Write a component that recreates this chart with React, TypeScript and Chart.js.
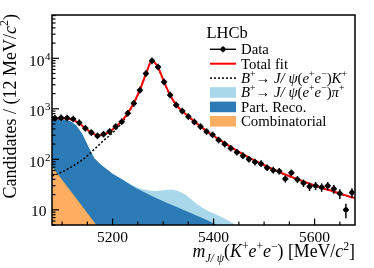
import React, { useEffect, useRef } from "react";
import { Chart, registerables } from "chart.js";

Chart.register(...registerables);

const SERIF = '"Liberation Serif", "Times New Roman", serif';

// ---- data ----
const binCenters = [
  5086, 5098, 5110, 5122, 5134, 5146, 5158, 5170, 5182, 5194,
  5206, 5218, 5230, 5242, 5254, 5266, 5278, 5290, 5302, 5314,
  5326, 5338, 5350, 5362, 5374, 5386, 5398, 5410, 5422, 5434,
  5446, 5458, 5470, 5482, 5494, 5506, 5518, 5530, 5542, 5554,
  5566, 5578, 5590, 5602, 5614, 5626, 5638, 5650, 5662, 5674,
];
const dataCounts = [
  649, 665, 658, 630, 532, 412, 338, 291, 314, 354,
  444, 556, 815, 1282, 2340, 4990, 8900, 6730, 3410, 1870,
  1189, 905, 700, 550, 444, 354, 305, 240, 200, 165,
  138, 118, 100, 88, 82, 68, 61, 58, 41, 54,
  40, 34, 29, 30, 28, 30, 26, 21, 10, 22,
];
const binHalfWidth = 6;

const curveMass = [5080, ...binCenters, 5680];
const totalFit = [
  645, 648, 652, 642, 600, 512, 412, 338, 300, 308,
  352, 440, 570, 820, 1300, 2360, 4900, 8900, 6550, 3380,
  1860, 1200, 900, 712, 562, 450, 364, 300, 250, 210,
  176, 148, 126, 108, 94, 82, 72, 63.5, 56, 50,
  45, 40.5, 36.5, 33, 30, 27.3, 25, 23, 21, 19.3,
  17.7, 17,
];
const signalK = [
  47, 49, 55, 63, 74, 88, 108, 140, 180, 235,
  295, 385, 525, 785, 1270, 2335, 4880, 8880, 6530, 3360,
  1840, 1185, 888, 702, 554, 443, 358, 295, 246, 206,
  173, 145, 124, 106, 92.5, 81, 71, 62.5, 55, 49.2,
  44.3, 39.8, 35.9, 32.4, 29.5, 26.8, 24.6, 22.6, 20.6, 19,
  17.4, 16.7,
];

const partRecoMass = [
  5080, 5092, 5104, 5116, 5128, 5140, 5152, 5164, 5176, 5188,
  5200, 5212, 5224, 5236, 5248, 5260, 5272, 5284, 5296, 5308,
  5320, 5332, 5344, 5356, 5368, 5380, 5392, 5404, 5416,
];
const partReco = [
  625, 625, 615, 575, 470, 320, 180, 105, 80, 64,
  52, 44, 37, 31, 26.5, 23, 20, 17.5, 15.5, 13.7,
  12.2, 10.8, 9.6, 8.5, 7.5, 6.7, 5.9, 5.2, 4.6,
];

const piMass = [
  5212, 5224, 5236, 5248, 5260, 5272, 5284, 5296, 5308, 5320,
  5332, 5344, 5356, 5368, 5380, 5392, 5404, 5416, 5428, 5440, 5452,
];
const piStack = [
  44, 37, 32, 28, 25.5, 24, 23.5, 24, 25, 25,
  23, 20, 16, 12.8, 10.6, 9.2, 8.2, 7.2, 6.2, 5.3, 4.6,
];

const combMass = [5080, 5168];
const combinatorial = [72, 5];

const xMajorTicks = [5200, 5400, 5600];
const xMinorTicks = [5100, 5150, 5250, 5300, 5350, 5450, 5500, 5550, 5650];
const yDecades = [10, 100, 1000, 10000];
const yExponents = ["", "2", "3", "4"];

const X_MIN = 5080;
const X_MAX = 5680;
const Y_MIN = 5;
const Y_MAX = 72000;

const COL_LIGHT = "#a9d8ea";
const COL_DARK = "#2c7bb6";
const COL_ORANGE = "#fdae61";
const COL_RED = "#ff0000";

// ---- rich text helper ----
type Run = { t: string; it?: boolean; s?: number; dy?: number };
const sup = (t: string): Run => ({ t, s: 0.66, dy: -0.42 });
const subIt = (t: string): Run => ({ t, it: true, s: 0.66, dy: 0.3 });

function runFont(r: Run, base: number) {
  return `${r.it ? "italic " : ""}${(base * (r.s ?? 1)).toFixed(2)}px ${SERIF}`;
}

function drawRuns(
  ctx: CanvasRenderingContext2D,
  runs: Run[],
  x: number,
  y: number,
  base: number,
  align: "left" | "right" | "center"
) {
  let w = 0;
  const widths = runs.map((r) => {
    ctx.font = runFont(r, base);
    const ww = ctx.measureText(r.t).width;
    w += ww;
    return ww;
  });
  let cx = align === "left" ? x : align === "right" ? x - w : x - w / 2;
  ctx.textAlign = "left";
  ctx.textBaseline = "alphabetic";
  runs.forEach((r, i) => {
    ctx.font = runFont(r, base);
    ctx.fillText(r.t, cx, y + (r.dy ?? 0) * base);
    cx += widths[i];
  });
}

function line(ctx: CanvasRenderingContext2D, x1: number, y1: number, x2: number, y2: number) {
  ctx.beginPath();
  ctx.moveTo(x1, y1);
  ctx.lineTo(x2, y2);
  ctx.stroke();
}

const decor = {
  id: "decor",
  afterDatasetsDraw(chart: any) {
    const ctx: CanvasRenderingContext2D = chart.ctx;
    const xs = chart.scales.x;
    const ys = chart.scales.y;
    ctx.save();
    ctx.strokeStyle = "#000";
    ctx.lineWidth = 1.5;
    binCenters.forEach((m, i) => {
      const n = dataCounts[i];
      const e = Math.sqrt(n);
      const px = xs.getPixelForValue(m);
      const py = ys.getPixelForValue(n);
      const yTop = Math.min(ys.getPixelForValue(n + e), py - 3.3);
      const yBot = Math.max(ys.getPixelForValue(Math.max(n - e, 0.01)), py + 3.3);
      line(ctx, xs.getPixelForValue(m - binHalfWidth), py, xs.getPixelForValue(m + binHalfWidth), py);
      line(ctx, px, yTop, px, yBot);
    });
    ctx.restore();
  },
  afterDraw(chart: any) {
    const ctx: CanvasRenderingContext2D = chart.ctx;
    const xs = chart.scales.x;
    const ys = chart.scales.y;
    const a = chart.chartArea;
    ctx.save();
    ctx.strokeStyle = "#000";
    ctx.fillStyle = "#000";

    // frame
    ctx.lineWidth = 1.5;
    ctx.strokeRect(a.left, a.top, a.right - a.left, a.bottom - a.top);

    // x ticks
    ctx.lineWidth = 1.2;
    xMajorTicks.forEach((v) => {
      const p = xs.getPixelForValue(v);
      line(ctx, p, a.bottom, p, a.bottom - 6.5);
    });
    xMinorTicks.forEach((v) => {
      const p = xs.getPixelForValue(v);
      line(ctx, p, a.bottom, p, a.bottom - 3.5);
    });
    // y ticks
    yDecades.forEach((d) => {
      const p = ys.getPixelForValue(d);
      line(ctx, a.left, p, a.left + 7, p);
    });
    for (let dec = 1; dec <= 10000; dec *= 10) {
      for (let k = 2; k <= 9; k++) {
        const v = k * dec;
        if (v < Y_MIN || v > Y_MAX) continue;
        const p = ys.getPixelForValue(v);
        line(ctx, a.left, p, a.left + 3.5, p);
      }
    }

    // x tick labels
    ctx.font = `15.5px ${SERIF}`;
    ctx.textAlign = "center";
    ctx.textBaseline = "alphabetic";
    xMajorTicks.forEach((v) => {
      ctx.fillText(String(v), xs.getPixelForValue(v), 242);
    });

    // y tick labels
    yDecades.forEach((d, i) => {
      const p = ys.getPixelForValue(d);
      ctx.textAlign = "right";
      ctx.font = `15.5px ${SERIF}`;
      if (yExponents[i] === "") {
        ctx.fillText("10", 46.5, p + 6.5);
      } else {
        ctx.fillText("10", 44.5, p + 7.5);
        ctx.textAlign = "left";
        ctx.font = `11px ${SERIF}`;
        ctx.fillText(yExponents[i], 45, p + 1.5);
      }
    });

    // axis titles
    drawRuns(
      ctx,
      [
        { t: "m", it: true },
        subIt("J/ ψ"),
        { t: "(" },
        { t: "K", it: true },
        sup("+"),
        { t: "e", it: true },
        sup("+"),
        { t: "e", it: true },
        sup("−"),
        { t: ") [MeV/" },
        { t: "c", it: true },
        sup("2"),
        { t: "]" },
      ],
      a.right,
      257,
      17.8,
      "right"
    );

    ctx.save();
    ctx.translate(16, a.top - 1);
    ctx.rotate(-Math.PI / 2);
    drawRuns(
      ctx,
      [{ t: "Candidates / (12 MeV/" }, { t: "c", it: true }, sup("2"), { t: ")" }],
      0,
      0,
      18,
      "right"
    );
    ctx.restore();

    // legend
    ctx.textAlign = "left";
    ctx.font = `16.5px ${SERIF}`;
    ctx.fillText("LHCb", 206.5, 38);

    const lx0 = 210;
    const lx1 = 236;
    const tx = 241;
    const rowY = (k: number) => 49.3 + 14.4 * k;
    const base = 14.8;

    // Data
    let y = rowY(0);
    ctx.lineWidth = 1.4;
    ctx.strokeStyle = "#000";
    line(ctx, lx0, y, lx1, y);
    line(ctx, (lx0 + lx1) / 2, y - 3, (lx0 + lx1) / 2, y + 3);
    ctx.beginPath();
    ctx.arc((lx0 + lx1) / 2, y, 2.5, 0, Math.PI * 2);
    ctx.fill();
    drawRuns(ctx, [{ t: "Data" }], tx, y + 4.8, base, "left");

    // Total fit
    y = rowY(1);
    ctx.strokeStyle = COL_RED;
    ctx.lineWidth = 2;
    line(ctx, lx0, y, lx1, y);
    drawRuns(ctx, [{ t: "Total fit" }], tx, y + 4.8, base, "left");

    // signal
    y = rowY(2);
    ctx.strokeStyle = "#000";
    ctx.lineWidth = 1.5;
    ctx.setLineDash([2, 2]);
    line(ctx, lx0, y, lx1, y);
    ctx.setLineDash([]);
    const decayRuns = (last: string): Run[] => [
      { t: "B", it: true },
      sup("+"),
      { t: "→ " },
      { t: "J/ ψ", it: true },
      { t: "(" },
      { t: "e", it: true },
      sup("+"),
      { t: "e", it: true },
      sup("−"),
      { t: ")" },
      { t: last, it: true },
      sup("+"),
    ];
    drawRuns(ctx, decayRuns("K"), tx, y + 4.8, base, "left");

    // boxes
    const boxes: [string, Run[]][] = [
      [COL_LIGHT, decayRuns("π")],
      [COL_DARK, [{ t: "Part. Reco." }]],
      [COL_ORANGE, [{ t: "Combinatorial" }]],
    ];
    boxes.forEach(([c, runs], j) => {
      const yy = rowY(3 + j);
      ctx.fillStyle = c;
      ctx.fillRect(lx0, yy - 5.3, lx1 - lx0, 10.6);
      ctx.fillStyle = "#000";
      drawRuns(ctx, runs, tx, yy + 4.8, base, "left");
    });

    ctx.restore();
  },
};

export default function App() {
  const ref = useRef<HTMLCanvasElement | null>(null);

  useEffect(() => {
    if (!ref.current) return;
    const pts = (xs: number[], ys: number[]) => xs.map((x, i) => ({ x, y: ys[i] }));
    const chart = new Chart(ref.current, {
      type: "line",
      data: {
        datasets: [
          {
            label: "Data",
            data: pts(binCenters, dataCounts),
            showLine: false,
            pointRadius: 2.5,
            pointBackgroundColor: "#000",
            pointBorderWidth: 0,
            borderColor: "#000",
            order: 0,
          },
          {
            label: "Total fit",
            data: pts(curveMass, totalFit),
            borderColor: COL_RED,
            borderWidth: 2,
            pointRadius: 0,
            cubicInterpolationMode: "monotone",
            fill: false,
            order: 1,
          },
          {
            label: "B→J/ψK",
            data: pts(curveMass, signalK),
            borderColor: "#000",
            borderWidth: 1.5,
            borderDash: [2, 2],
            pointRadius: 0,
            cubicInterpolationMode: "monotone",
            fill: false,
            order: 2,
          },
          {
            label: "Combinatorial",
            data: pts(combMass, combinatorial),
            borderColor: COL_ORANGE,
            backgroundColor: COL_ORANGE,
            borderWidth: 0,
            pointRadius: 0,
            fill: "start",
            order: 3,
          },
          {
            label: "Part. Reco.",
            data: pts(partRecoMass, partReco),
            borderColor: COL_DARK,
            backgroundColor: COL_DARK,
            borderWidth: 0,
            pointRadius: 0,
            fill: "start",
            order: 4,
          },
          {
            label: "B→J/ψπ",
            data: pts(piMass, piStack),
            borderColor: COL_LIGHT,
            backgroundColor: COL_LIGHT,
            borderWidth: 0,
            pointRadius: 0,
            fill: "start",
            order: 5,
          },
        ],
      } as any,
      options: {
        animation: false,
        responsive: false,
        devicePixelRatio: 1,
        events: [],
        layout: { padding: { left: 52, right: 19, top: 15, bottom: 43 } },
        scales: {
          x: { type: "linear", min: X_MIN, max: X_MAX, display: false },
          y: { type: "logarithmic", min: Y_MIN, max: Y_MAX, display: false },
        },
        plugins: { legend: { display: false }, tooltip: { enabled: false } },
      } as any,
      plugins: [decor],
    });
    return () => chart.destroy();
  }, []);

  return (
    <div style={{ position: "absolute", left: 0, top: 0, width: 374, height: 268, background: "#fff" }}>
      <canvas ref={ref} width={374} height={268} style={{ width: 374, height: 268, display: "block" }} />
    </div>
  );
}
